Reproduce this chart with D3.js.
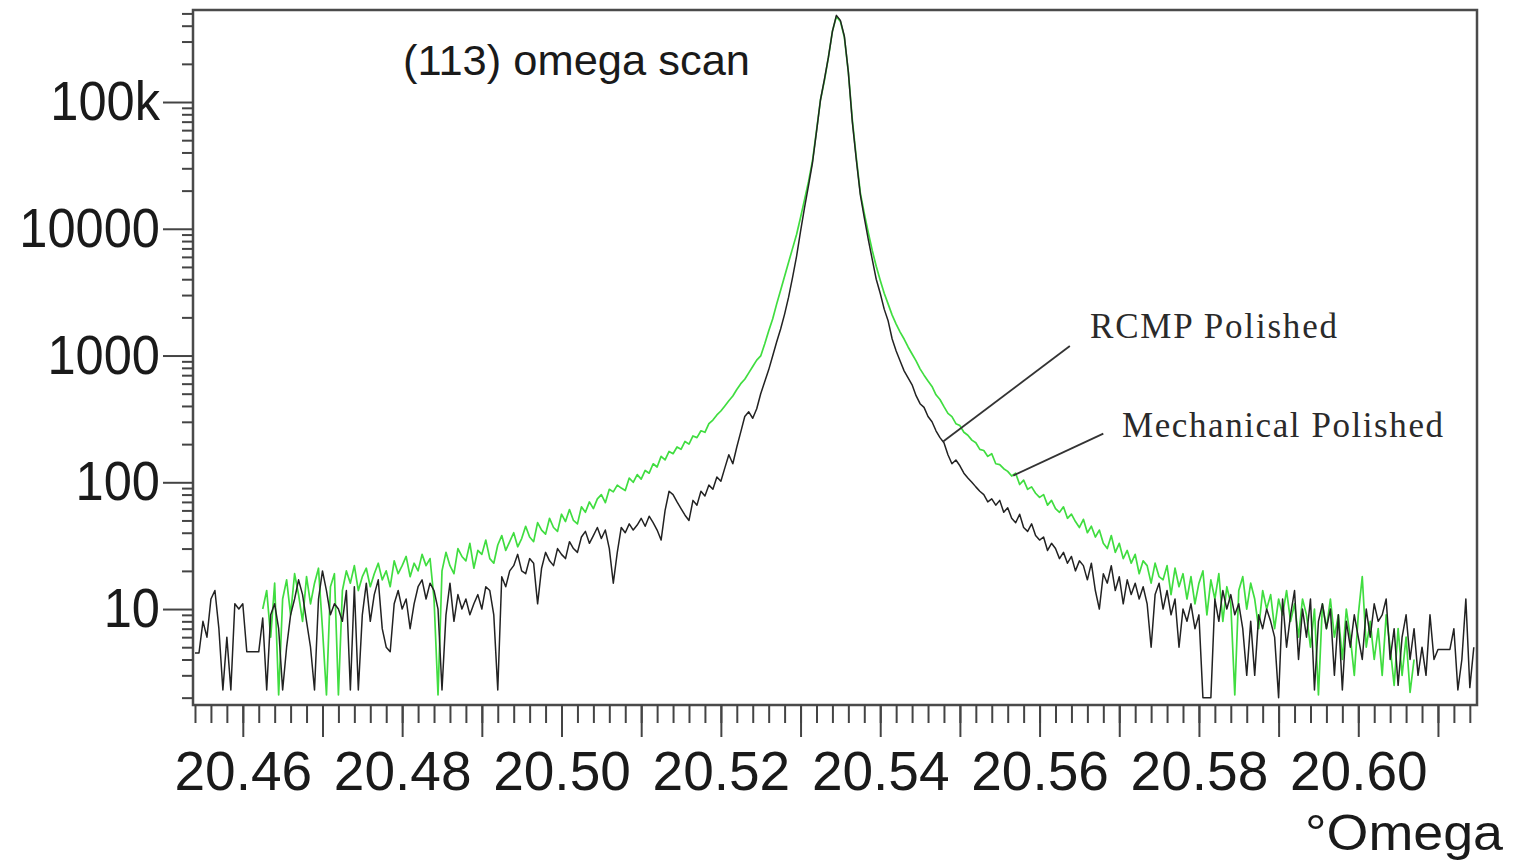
<!DOCTYPE html>
<html><head><meta charset="utf-8">
<script src="https://cdn.jsdelivr.net/npm/d3@7"></script>
<style>html,body{margin:0;padding:0;background:#fff;} svg{display:block;}</style>
</head><body>
<svg id="chart" width="1523" height="863"></svg>
<script>
// ---- data ----
const scanStart = 20.454;   // first omega of the scan
const scanStep = 0.0005;    // omega step between readings

// RCMP polished (black trace), counts
const rcmpCounts = [
4.5,4.5,8,6,12,14,7,2.3,6,2.3,11,10,11,4.6,4.6,4.6,4.6,8.5,2.3,9,
11,7,2.3,5,9,12,17,13,8,5,2.3,12,20,14,9,11,10,8,14,2.3,
15,2.3,9,16,8,13,17,7,5,4.6,11,14,10,12,7,11,15,17,12,16,
14,10,2.3,9,16,8,13,10,12,9,11,13,10,15,14,9,2.3,18,15,20,
22,27,20,19,25,23,11,21,28,24,22,30,27,25,34,30,28,37,41,33,
38,44,36,42,30,16,28,44,40,47,42,46,52,45,54,48,42,35,60,85,
80,70,62,55,50,72,66,85,78,95,88,110,102,130,165,140,190,250,330,360,320,380,
499,620,771,993,1279,1618,2122,2886,4143,6058,9524,14700,21890,33180,58120,103700,151600,225700,361200,482500,
440700,330000,172000,69650,35030,18600,12270,8241,5739,3996,3103,2323,1869,1350,1087,907,757,667,588,482,417,
390,330,300,255,225,205,165,140,150,135,118,108,100,92,85,80,70,74,66,72,
58,63,52,48,56,44,41,47,38,35,37,29,33,30,25,28,23,26,20,24,
22,17,23,14,10,19,16,22,14,18,11,17,13,16,12,15,11,5,13,16,
10,14,9,12,5,10,8,11,7,9,2,2,2,12,8,14,10,13,9,11,
7,3,8,3,9,7,10,8,6,2,12,5,9,14,4,10,6,12,2.3,8,
11,7,10,3,9,2.3,8,5,9,6,4,10,6,11,8,9,12,4,7,2.5,
6,9,4,7,3,5,3,9,4,4.8,4.8,4.8,4.8,7,2.3,4,12,2.4,5
];

// Mechanical polished (green trace), counts (null = not measured)
const mechCounts = [
null,null,null,null,null,null,null,null,null,null,null,null,null,null,null,null,null,
10,14,6,
16,2.1,12,17,9,19,13,8,18,11,16,21,7,2.1,15,19,2.1,14,20,16,
22,14,18,21,15,19,23,17,20,15,24,19,22,26,18,23,20,27,22,25,
12,2.1,20,28,22,19,30,26,24,33,21,29,27,35,25,23,32,38,29,34,
40,31,36,45,37,34,48,42,39,52,44,41,56,49,61,50,47,64,58,70,
62,74,80,69,88,84,95,90,86,108,100,115,106,124,118,140,132,160,150,175,
168,190,182,210,200,232,225,255,248,290,310,340,365,400,440,480,540,600,650,730,820,920,
993,1233,1561,1939,2543,3276,4220,5437,7004,9020,12270,16990,23530,34400,59200,103700,148000,225700,361200,473800,
432800,324000,172000,72240,36320,19290,13190,9353,6752,5056,3925,3103,2543,2084,1771,1532,1350,1168,1029,907,785,
700,630,570,490,450,395,350,330,290,280,248,235,215,205,182,178,160,168,140,138,
128,122,112,118,96,104,88,92,82,76,80,66,72,62,58,64,52,56,49,44,
51,40,45,37,42,33,30,38,28,33,25,29,23,27,19,24,22,16,23,18,
17,22,13,21,15,19,12,18,11,16,20,9,17,12,19,8,15,11,2.1,14,
18,10,16,12,7,14,10,13,7,12,9,14,8,11,6,12,9,5,10,2.1,
11,7,12,6,9,4,10,6,3,9,18,5,8,4,7,3,9,5,2.5,7,
3,6,2.2,4,
null,null,null,null,null,null,null,null,null,null,null,null,null,null,null
];

const xLabelValues = [20.46, 20.48, 20.50, 20.52, 20.54, 20.56, 20.58, 20.60];
const xLabelTexts = ["20.46","20.48","20.50","20.52","20.54","20.56","20.58","20.60"];
const yLabelValues = [10, 100, 1000, 10000, 100000];
const yLabelTexts = ["10","100","1000","10000","100k"];
const titleText = "(113) omega scan";
const xTitle = "\u00B0Omega";
const seriesNames = ["RCMP Polished", "Mechanical Polished"];
// annotation leader lines: [label end omega, counts] -> [curve omega, counts]
const rcmpPointer = [[20.5638, 1190], [20.5479, 210]];
const mechPointer = [[20.5680, 242], [20.5567, 113]];

// ---- drawing ----
const svg = d3.select("#chart");
const x = d3.scaleLinear().domain([20.45375, 20.6149]).range([193, 1477]);
const y = d3.scaleLog().domain([1.75, 532000]).range([705, 10]);

const omega = i => scanStart + i * scanStep;
const rcmp = rcmpCounts.map((v, i) => ({x: omega(i), y: v}));
const mech = mechCounts.map((v, i) => ({x: omega(i), y: v}));

svg.append("defs").append("clipPath").attr("id", "plotclip")
  .append("rect").attr("x", 193).attr("y", 10).attr("width", 1284).attr("height", 695);

const line = d3.line().defined(d => d.y != null).x(d => x(d.x)).y(d => y(d.y));
const plot = svg.append("g").attr("clip-path", "url(#plotclip)");
plot.append("path").datum(mech).attr("d", line)
  .attr("fill", "none").attr("stroke", "#40dd40").attr("stroke-width", 1.7).attr("stroke-linejoin", "round");
plot.append("path").datum(rcmp).attr("d", line)
  .attr("fill", "none").attr("stroke", "#222").attr("stroke-width", 1.5).attr("stroke-linejoin", "round");

// frame
svg.append("rect").attr("x", 193).attr("y", 10).attr("width", 1284).attr("height", 695)
  .attr("fill", "none").attr("stroke", "#4a4a4a").attr("stroke-width", 2.5);

// x axis ticks
const xMinor = d3.range(20454, 20615, 2).map(m => m / 1000);
const xMajor = d3.range(20460, 20615, 10).map(m => m / 1000);
const gxMinor = svg.append("g").attr("transform", "translate(0,705)")
  .call(d3.axisBottom(x).tickValues(xMinor).tickSize(18).tickFormat(""));
const gxMajor = svg.append("g").attr("transform", "translate(0,705)")
  .call(d3.axisBottom(x).tickValues(xMajor).tickSize(32).tickPadding(14)
    .tickFormat(v => { const k = xLabelValues.findIndex(l => Math.abs(l - v) < 1e-7); return k >= 0 ? xLabelTexts[k] : ""; }));

// y axis ticks
const yMinor = [];
for (let p = 0; p <= 5; p++) for (let m = 2; m <= 9; m++) { const v = m * Math.pow(10, p); if (v >= 1.75 && v <= 532000) yMinor.push(v); }
const gyMinor = svg.append("g").attr("transform", "translate(193,0)")
  .call(d3.axisLeft(y).tickValues(yMinor).tickSize(11).tickFormat(""));
const gyMajor = svg.append("g").attr("transform", "translate(193,0)")
  .call(d3.axisLeft(y).tickValues(yLabelValues).tickSize(30).tickPadding(3)
    .tickFormat(v => yLabelTexts[yLabelValues.indexOf(v)]));

[gxMinor, gxMajor, gyMinor, gyMajor].forEach(g => {
  g.select(".domain").remove();
  g.selectAll(".tick line").attr("stroke", "#444").attr("stroke-width", 2);
  g.selectAll("text").attr("fill", "#1a1a1a").style("font-family", "'Liberation Sans', Arial, sans-serif");
});
gxMajor.selectAll("text").style("font-size", "55px");
gyMajor.selectAll("text").style("font-size", "55px").each(function() {
  const w = this.getComputedTextLength();
  d3.select(this).attr("textLength", w * 0.92).attr("lengthAdjust", "spacingAndGlyphs");
});

// texts
svg.append("text").attr("x", 403).attr("y", 75).text(titleText)
  .style("font-family", "'Liberation Sans', Arial, sans-serif").style("font-size", "42px")
  .attr("fill", "#1a1a1a").attr("textLength", 347).attr("lengthAdjust", "spacingAndGlyphs");

svg.append("text").attr("x", 1305).attr("y", 850).text(xTitle)
  .style("font-family", "'Liberation Sans', Arial, sans-serif").style("font-size", "50px")
  .attr("fill", "#1a1a1a").attr("textLength", 198).attr("lengthAdjust", "spacingAndGlyphs");

svg.append("text").attr("x", 1090).attr("y", 338).text(seriesNames[0])
  .style("font-family", "'Liberation Serif', 'Times New Roman', serif").style("font-size", "35px")
  .attr("fill", "#2a2a2a").attr("textLength", 247).attr("lengthAdjust", "spacing");
svg.append("text").attr("x", 1122).attr("y", 437).text(seriesNames[1])
  .style("font-family", "'Liberation Serif', 'Times New Roman', serif").style("font-size", "35px")
  .attr("fill", "#2a2a2a").attr("textLength", 321).attr("lengthAdjust", "spacing");

[rcmpPointer, mechPointer].forEach(p => {
  svg.append("line")
    .attr("x1", x(p[0][0])).attr("y1", y(p[0][1]))
    .attr("x2", x(p[1][0])).attr("y2", y(p[1][1]))
    .attr("stroke", "#333").attr("stroke-width", 1.8);
});
</script>
</body></html>
